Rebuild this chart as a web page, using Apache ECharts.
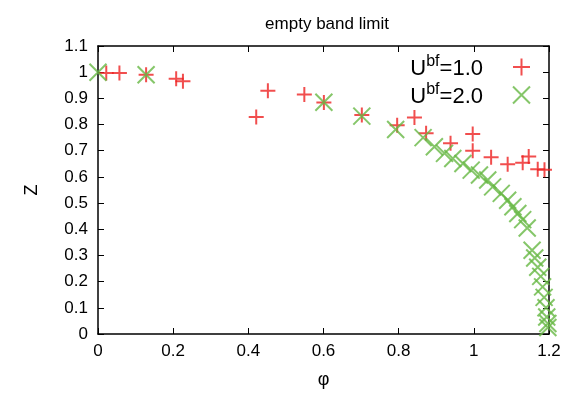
<!DOCTYPE html>
<html>
<head>
<meta charset="utf-8">
<script src="https://cdn.jsdelivr.net/npm/echarts@6/dist/echarts.min.js"></script>
<style>html,body{margin:0;padding:0;background:#fff}#c{width:575px;height:397px}</style>
</head>
<body>
<div id="c"></div>
<script>
// phi (x) and Z (y) for U^bf = 1.0
const phi1 = [0.022,0.057,0.128,0.208,0.226,0.421,0.452,0.549,0.601,0.702,0.796,0.842,0.873,0.938,0.997,0.997,1.046,1.09,1.13,1.146,1.17,1.188];
const z1   = [0.997,0.997,0.99,0.975,0.965,0.829,0.929,0.915,0.884,0.836,0.797,0.827,0.767,0.729,0.764,0.700,0.675,0.648,0.654,0.678,0.629,0.627];
// phi (x) and Z (y) for U^bf = 2.0
const phi2 = [0,0.128,0.601,0.702,0.792,0.865,0.895,0.922,0.944,0.971,0.993,1.015,1.037,1.05,1.073,1.09,1.104,1.117,1.13,1.142,1.155,1.162,1.17,1.178,1.183,1.187,1.192,1.194,1.197,1.197];
const z2   = [1.0,0.99,0.885,0.832,0.781,0.75,0.715,0.69,0.67,0.651,0.626,0.607,0.588,0.562,0.537,0.511,0.486,0.46,0.437,0.405,0.32,0.29,0.255,0.22,0.18,0.14,0.10,0.065,0.04,0.025];
const seriesNames = ['U^bf=1.0','U^bf=2.0'];
const legendLabels = {'U^bf=1.0':'{n|U}{s|bf}{n|=1.0}','U^bf=2.0':'{n|U}{s|bf}{n|=2.0}'};

const FONT = 'Liberation Sans, Helvetica, Arial, sans-serif';
const RED = '#ee2222', GREEN = '#66b844';
const PLUS = 'path://M0,5L10,5M5,0L5,10';
const CROSS = 'path://M0,0L10,10M10,0L0,10';

const chart = echarts.init(document.getElementById('c'), null, {renderer:'canvas'});
const axisCommon = {
  axisLine:{show:true, onZero:false, lineStyle:{color:'#000', width:1.5}},
  axisTick:{show:true, inside:true, length:6, lineStyle:{color:'#000', width:1}},
  splitLine:{show:false}
};
chart.setOption({
  animation:false,
  backgroundColor:'#fff',
  textStyle:{fontFamily:FONT},
  title:{text:'empty band limit', left:322, top:11, textAlign:'center',
    textStyle:{fontFamily:FONT, fontSize:17, fontWeight:'normal', color:'#000'}},
  grid:{left:98, right:26, top:46, bottom:63},
  legend:{
    data:seriesNames, orient:'vertical', right:39, top:49, align:'right',
    itemGap:2, itemWidth:17, itemHeight:17,
    formatter:n=>legendLabels[n],
    textStyle:{fontFamily:FONT, color:'#000', padding:[0,25,0,0],
      rich:{n:{fontSize:22, fontFamily:FONT, color:'#000', verticalAlign:'bottom', lineHeight:26},
            s:{fontSize:16, fontFamily:FONT, color:'#000', verticalAlign:'top', lineHeight:26, padding:[0,0,6,0]}}}
  },
  xAxis:[
    Object.assign({type:'value', min:0, max:1.2, interval:0.2, position:'bottom',
      name:'φ', nameLocation:'middle', nameGap:37,
      nameTextStyle:{fontFamily:FONT, fontSize:18, color:'#000'},
      axisLabel:{fontFamily:FONT, fontSize:17, color:'#000', margin:9}}, axisCommon),
    Object.assign({type:'value', min:0, max:1.2, interval:0.2, position:'top',
      axisLabel:{show:false}}, axisCommon)
  ],
  yAxis:[
    Object.assign({type:'value', min:0, max:1.1, interval:0.1, position:'left',
      name:'Z', nameLocation:'middle', nameGap:57, nameRotate:90,
      nameTextStyle:{fontFamily:FONT, fontSize:18, color:'#000'},
      axisLabel:{fontFamily:FONT, fontSize:17, color:'#000', margin:10}}, axisCommon),
    Object.assign({type:'value', min:0, max:1.1, interval:0.1, position:'right',
      axisLabel:{show:false}}, axisCommon)
  ],
  series:[
    {name:seriesNames[0], type:'scatter', xAxisIndex:0, yAxisIndex:0,
     symbol:PLUS, symbolSize:15,
     itemStyle:{color:'transparent', borderColor:RED, borderWidth:2},
     data:phi1.map((x,i)=>[x,z1[i]])},
    {name:seriesNames[1], type:'scatter', xAxisIndex:0, yAxisIndex:0,
     symbol:CROSS, symbolSize:17,
     itemStyle:{color:'transparent', borderColor:GREEN, borderWidth:2},
     data:phi2.map((x,i)=>[x,z2[i]])}
  ]
});
</script>
</body>
</html>
